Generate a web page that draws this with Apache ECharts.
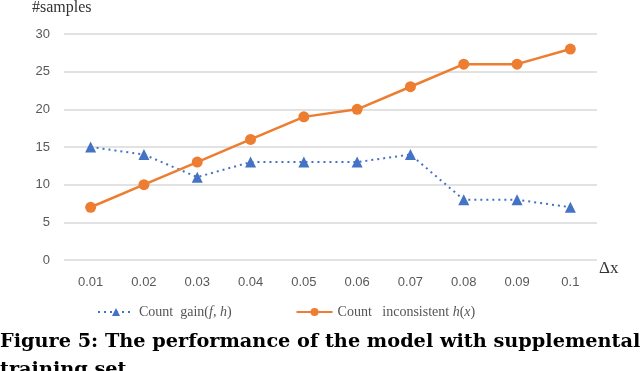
<!DOCTYPE html>
<html lang="en">
	<head>
		<meta charset="UTF-8" />
		<title>Figure 5</title>
		<style>
			* {
				box-sizing: border-box;
				margin: 0;
				padding: 0;
			}

			.container {
				width: 640px;
				height: 371px;
				background-color: #fff;
			}
		</style>
	</head>
	<body>
		<div class="container" id="chart"></div>
		<script src="https://cdn.jsdelivr.net/npm/echarts@6/dist/echarts.min.js"></script>
		<script>
			// 横轴类别
			const categories = ['0.01', '0.02', '0.03', '0.04', '0.05', '0.06', '0.07', '0.08', '0.09', '0.1']
			// Count gain(f, h)
			const gainCounts = [15, 14, 11, 13, 13, 13, 14, 8, 8, 7]
			// Count inconsistent h(x)
			const inconsistentCounts = [7, 10, 13, 16, 19, 20, 23, 26, 26, 28]

			const serif = 'Liberation Serif'
			const richText = {
				n: { fontFamily: serif, fontSize: 14, color: '#555' },
				i: { fontFamily: serif, fontSize: 14, color: '#555', fontStyle: 'italic' }
			}

			const chart = echarts.init(document.getElementById('chart'))
			chart.setOption({
				animation: false,
				grid: {
					left: 64,
					right: 43,
					top: 33,
					bottom: 111
				},
				legend: {
					bottom: 47,
					left: 92,
					itemGap: 64,
					itemWidth: 36,
					itemHeight: 10,
					data: ['gain', 'inconsistent'],
					formatter: function (name) {
						if (name === 'gain') {
							return '{n|Count  gain(}{i|f}{n|, }{i|h}{n|)}'
						}
						return '{n|Count   inconsistent }{i|h}{n|(}{i|x}{n|)}'
					},
					textStyle: {
						rich: richText
					}
				},
				xAxis: {
					type: 'category',
					data: categories,
					boundaryGap: true,
					name: 'Δx',
					nameGap: 2,
					nameTextStyle: {
						fontFamily: serif,
						fontSize: 17,
						color: '#333',
						verticalAlign: 'top',
						padding: [0, 0, 0, 0]
					},
					axisLine: { show: false },
					axisTick: { show: false },
					axisLabel: {
						color: '#595959',
						fontSize: 13,
						fontFamily: 'Liberation Sans',
						margin: 16
					}
				},
				yAxis: {
					type: 'value',
					min: 0,
					max: 30,
					interval: 5,
					name: '#samples',
					nameLocation: 'end',
					nameGap: 18,
					nameTextStyle: {
						fontFamily: serif,
						fontSize: 16,
						color: '#333',
						align: 'left',
						padding: [0, 0, 0, -32]
					},
					axisLine: { show: false },
					axisTick: { show: false },
					axisLabel: {
						color: '#595959',
						fontSize: 13,
						fontFamily: 'Liberation Sans',
						margin: 14
					},
					splitLine: {
						lineStyle: { color: '#d9d9d9', width: 1.5 }
					}
				},
				series: [
					{
						name: 'gain',
						type: 'line',
						data: gainCounts,
						symbol: 'triangle',
						symbolSize: 11,
						itemStyle: { color: '#4472c4' },
						lineStyle: { color: '#4472c4', width: 2, type: [2, 4] }
					},
					{
						name: 'inconsistent',
						type: 'line',
						data: inconsistentCounts,
						symbol: 'circle',
						symbolSize: 11,
						itemStyle: { color: '#ed7d31' },
						lineStyle: { color: '#ed7d31', width: 2.5 }
					}
				],
				graphic: [
					{
						type: 'text',
						left: 0,
						top: 328,
						style: {
							text: 'Figure 5: The performance of the model with supplemental\ntraining set',
							font: 'bold 19.3px "DejaVu Serif"',
							fill: '#000',
							lineHeight: 28
						}
					}
				]
			})
		</script>
	</body>
</html>
